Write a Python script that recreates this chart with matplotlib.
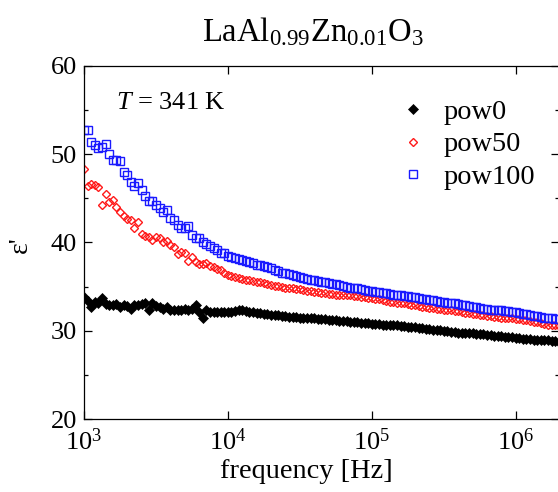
import numpy as np
import matplotlib
matplotlib.use("Agg")
import matplotlib.pyplot as plt
from matplotlib.ticker import MultipleLocator, NullLocator, FixedLocator

plt.rcParams['font.family'] = ['Liberation Serif', 'DejaVu Serif']
plt.rcParams['mathtext.fontset'] = 'custom'
plt.rcParams['mathtext.rm'] = 'Liberation Serif'
plt.rcParams['mathtext.it'] = 'Liberation Serif:italic'
plt.rcParams['mathtext.bf'] = 'Liberation Serif:bold'

# measurement sweep: 40 points per decade from 1 kHz to 2 MHz
freq = np.logspace(3, 6.3, 133)

pow0 = [33.85, 33.4, 32.7, 33.3, 33.1, 33.7, 33.0, 32.9, 32.9, 33.0,
        32.7, 32.9, 32.8, 32.5, 32.9, 32.9, 33.0, 33.1, 32.4, 33.2,
        32.8, 32.7, 32.5, 32.65, 32.4, 32.4, 32.4, 32.4, 32.45, 32.3,
        32.5, 32.9, 32.15, 31.5, 32.3, 32.15, 32.15, 32.15, 32.15, 32.1,
        32.15,
        32.1, 32.2, 32.3, 32.4, 32.2, 32.1, 32.1, 32.0, 32.0, 31.9,
        31.9, 31.8, 31.8, 31.8, 31.7, 31.7, 31.6, 31.6, 31.6, 31.5,
        31.5, 31.5, 31.4, 31.4, 31.3, 31.3, 31.3, 31.2, 31.2, 31.2,
        31.1, 31.1, 31.1, 31.0, 31.0, 31.0, 30.9, 30.9, 30.9, 30.8,
        30.8, 30.8, 30.7, 30.7, 30.6, 30.6, 30.6, 30.5, 30.5, 30.4,
        30.4, 30.4, 30.3, 30.3, 30.2, 30.2, 30.1, 30.1, 30.1, 30.0,
        30.0, 29.9, 29.9, 29.8, 29.8, 29.8, 29.7, 29.7, 29.6, 29.6,
        29.6, 29.5, 29.5, 29.4, 29.4, 29.4, 29.3, 29.3, 29.3, 29.2,
        29.2, 29.1, 29.1, 29.1, 29.0, 29.0, 28.9, 28.9, 28.9, 28.8,
        28.8, 28.7]

pow50 = [48.3, 46.4, 46.6, 46.5, 46.3, 44.2, 45.5, 44.6, 44.8, 44.0,
         43.5, 43.0, 42.7, 42.5, 41.6, 42.3, 41.0, 40.7, 40.6, 40.3,
         40.6, 40.5, 40.1, 40.2, 39.7, 39.5, 38.7, 38.9, 38.8, 37.9,
         38.4, 37.8, 37.6, 37.6, 37.7, 37.3, 37.2, 37.0, 36.9, 36.6,
         36.3,
         36.2, 36.1, 36.0, 35.9, 35.8, 35.7, 35.6, 35.5, 35.5, 35.4,
         35.3, 35.2, 35.1, 35.1, 35.0, 34.9, 34.8, 34.8, 34.7, 34.7,
         34.6, 34.5, 34.5, 34.4, 34.4, 34.3, 34.3, 34.2, 34.2, 34.1,
         34.1, 34.0, 34.0, 34.0, 33.9, 33.9, 33.8, 33.8, 33.7, 33.7,
         33.6, 33.6, 33.5, 33.4, 33.3, 33.3, 33.2, 33.1, 33.1, 33.0,
         32.9, 32.9, 32.8, 32.7, 32.7, 32.6, 32.6, 32.5, 32.5, 32.4,
         32.3, 32.3, 32.2, 32.2, 32.1, 32.0, 32.0, 31.9, 31.9, 31.8,
         31.8, 31.7, 31.7, 31.6, 31.6, 31.5, 31.5, 31.4, 31.4, 31.3,
         31.3, 31.2, 31.2, 31.1, 31.0, 31.0, 30.9, 30.8, 30.7, 30.7,
         30.6, 30.5]

pow100 = [52.7, 52.8, 51.4, 51.1, 50.7, 50.8, 51.2, 50.0, 49.4, 49.3,
          49.2, 48.0, 47.7, 46.9, 46.4, 46.7, 46.0, 45.3, 44.7, 44.7,
          44.2, 43.9, 43.4, 43.7, 42.8, 42.5, 42.0, 41.6, 41.6, 41.9,
          40.9, 40.5, 40.5, 40.1, 39.8, 39.6, 39.4, 39.2, 38.8, 38.8,
          38.5,
          38.4, 38.3, 38.1, 38.0, 37.9, 37.8, 37.7, 37.5, 37.4, 37.3,
          37.2, 37.1, 36.9, 36.8, 36.6, 36.5, 36.4, 36.3, 36.2, 36.1,
          36.0, 35.9, 35.8, 35.7, 35.6, 35.5, 35.5, 35.4, 35.3, 35.3,
          35.2, 35.1, 35.0, 34.9, 34.9, 34.8, 34.7, 34.6, 34.5, 34.5,
          34.4, 34.4, 34.3, 34.3, 34.2, 34.1, 34.1, 34.0, 33.9, 33.9,
          33.8, 33.8, 33.7, 33.6, 33.6, 33.5, 33.5, 33.4, 33.3, 33.3,
          33.2, 33.1, 33.1, 33.0, 32.9, 32.9, 32.8, 32.7, 32.7, 32.6,
          32.5, 32.5, 32.4, 32.4, 32.3, 32.3, 32.2, 32.2, 32.1, 32.1,
          32.0, 31.9, 31.9, 31.8, 31.7, 31.7, 31.6, 31.5, 31.5, 31.4,
          31.3, 31.3]

labels = ["pow0", "pow50", "pow100"]
xticks = [1e3, 1e4, 1e5, 1e6]
xticklabels = [r"$\mathregular{10^{3}}$", r"$\mathregular{10^{4}}$",
               r"$\mathregular{10^{5}}$", r"$\mathregular{10^{6}}$"]
yticks = [20, 30, 40, 50, 60]

W, H = 558, 492
fig = plt.figure(figsize=(W / 100, H / 100), dpi=100)
ax = fig.add_axes([84 / W, 1 - 419 / H, (559 - 84) / W, (419 - 66) / H])

ax.plot(freq, pow0, linestyle='none', marker='D', markersize=4.8,
        color='black', markeredgewidth=0.5, label=labels[0])
ax.plot(freq, pow50, linestyle='none', marker='D', markersize=4.0,
        markerfacecolor='none', markeredgecolor='#ff1a1a', markeredgewidth=1.0,
        label=labels[1])
ax.plot(freq, pow100, linestyle='none', marker='s', markersize=5.2,
        markerfacecolor='none', markeredgecolor='#1a1aff', markeredgewidth=1.0,
        label=labels[2])

ax.set_xscale('log')
ax.set_xlim(1e3, 2e6)
ax.set_ylim(20, 60)
ax.xaxis.set_major_locator(FixedLocator(xticks))
ax.xaxis.set_minor_locator(NullLocator())
ax.set_xticklabels(xticklabels)
ax.yaxis.set_major_locator(FixedLocator(yticks))
ax.yaxis.set_minor_locator(MultipleLocator(5))

for s in ax.spines.values():
    s.set_linewidth(0.9)
ax.tick_params(which='both', direction='in', top=True, right=True,
               width=0.9, labelsize=19)
ax.tick_params(which='major', length=5.5)
ax.tick_params(which='minor', length=3)
ax.tick_params(axis='y', which='major', pad=5)
ax.tick_params(axis='x', which='major', pad=7)

fig.text(313 / W, 1 - 32 / H, r"LaAl$_{\mathregular{0.99}}$Zn$_{\mathregular{0.01}}$O$_{\mathregular{3}}$",
         ha='center', va='center', fontsize=23.5)
fig.text(306 / W, 1 - 471 / H, "frequency [Hz]", ha='center', va='center', fontsize=20.4)
fig.text(20 / W, 1 - 245 / H, "ε'", ha='center', va='center', rotation=90, fontsize=20)
fig.text(116 / W, 1 - 103 / H, r"$T$ = 341 K", ha='left', va='center', fontsize=19)

leg = ax.legend(loc='upper left',
                bbox_to_anchor=((399 - 84) / (559 - 84), 1 - (99 - 66) / (419 - 66)),
                frameon=False, fontsize=20.4, handlelength=1.0, handletextpad=0.56,
                labelspacing=0.24, borderpad=0, borderaxespad=0, markerscale=1.0)

fig.savefig("out.png", dpi=100)
